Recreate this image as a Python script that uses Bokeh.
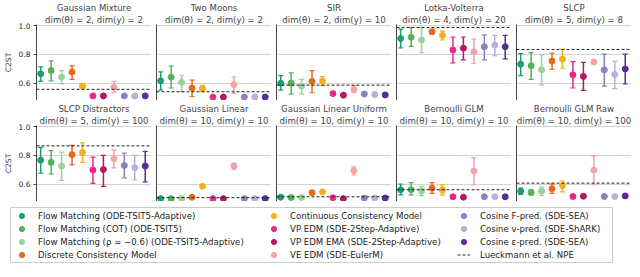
import numpy as np
from bokeh.plotting import figure
from bokeh.models import (Range1d, FixedTicker, Span, Title, Legend, LegendItem,
                          ColumnDataSource, NumeralTickFormatter)
from bokeh.layouts import column, row
from bokeh.embed import file_html
from bokeh.resources import INLINE

FONT = "DejaVu Sans"

methods = [
    "Flow Matching (ODE-TSIT5-Adaptive)",
    "Flow Matching (COT) (ODE-TSIT5)",
    "Flow Matching (ρ = −0.6) (ODE-TSIT5-Adaptive)",
    "Discrete Consistency Model",
    "Continuous Consistency Model",
    "VP EDM (SDE-2Step-Adaptive)",
    "VP EDM EMA (SDE-2Step-Adaptive)",
    "VE EDM (SDE-EulerM)",
    "Cosine F-pred. (SDE-SEA)",
    "Cosine v-pred. (SDE-ShARK)",
    "Cosine ε-pred. (SDE-SEA)",
]
npe_label = "Lueckmann et al. NPE"
colors = ["#1b9e77", "#52b35a", "#9ad39a", "#e66a1a", "#f0b21c", "#e7298a",
          "#b31a62", "#f7a1a8", "#8b80c2", "#b6b1dc", "#5b2b98"]

task_names = ["Gaussian Mixture", "Two Moons", "SIR", "Lotka-Volterra", "SLCP",
              "SLCP Distractors", "Gaussian Linear", "Gaussian Linear Uniform",
              "Bernoulli GLM", "Bernoulli GLM Raw"]
task_dims = ["dim(θ) = 2, dim(y) = 2", "dim(θ) = 2, dim(y) = 2",
             "dim(θ) = 2, dim(y) = 10", "dim(θ) = 4, dim(y) = 20",
             "dim(θ) = 5, dim(y) = 8", "dim(θ) = 5, dim(y) = 100",
             "dim(θ) = 10, dim(y) = 10", "dim(θ) = 10, dim(y) = 10",
             "dim(θ) = 10, dim(y) = 10", "dim(θ) = 10, dim(y) = 100"]

gm_mean = [0.665, 0.687, 0.641, 0.676, 0.578, 0.510, 0.510, 0.572, 0.510, 0.510, 0.510]
gm_lo = [0.611, 0.615, 0.593, 0.626, 0.564, 0.505, 0.505, 0.534, 0.506, 0.506, 0.506]
gm_hi = [0.713, 0.755, 0.687, 0.720, 0.593, 0.515, 0.515, 0.611, 0.514, 0.514, 0.514]
gm_npe = 0.556

tm_mean = [0.615, 0.641, 0.605, 0.565, 0.561, 0.502, 0.502, 0.589, 0.502, 0.502, 0.502]
tm_lo = [0.550, 0.565, 0.539, 0.506, 0.539, 0.498, 0.498, 0.528, 0.498, 0.498, 0.498]
tm_hi = [0.677, 0.718, 0.654, 0.620, 0.583, 0.506, 0.506, 0.641, 0.506, 0.506, 0.506]
tm_npe = 0.539

sir_mean = [0.598, 0.600, 0.578, 0.611, 0.613, 0.526, 0.515, 0.556, 0.523, 0.519, 0.517]
sir_lo = [0.550, 0.523, 0.523, 0.532, 0.582, 0.516, 0.505, 0.532, 0.518, 0.514, 0.512]
sir_hi = [0.652, 0.670, 0.626, 0.687, 0.644, 0.536, 0.525, 0.580, 0.528, 0.524, 0.522]
sir_npe = 0.585

lv_mean = [0.910, 0.919, 0.900, 0.958, 0.932, 0.830, 0.843, 0.818, 0.853, 0.864, 0.853]
lv_lo = [0.845, 0.856, 0.812, 0.940, 0.900, 0.740, 0.762, 0.736, 0.762, 0.790, 0.768]
lv_hi = [0.976, 0.987, 0.987, 0.975, 0.962, 0.921, 0.921, 0.906, 0.936, 0.932, 0.932]
lv_npe = 0.987

slcp_mean = [0.731, 0.720, 0.692, 0.753, 0.766, 0.657, 0.646, 0.746, 0.692, 0.659, 0.698]
slcp_lo = [0.652, 0.626, 0.587, 0.696, 0.703, 0.565, 0.548, 0.735, 0.578, 0.561, 0.593]
slcp_hi = [0.805, 0.812, 0.797, 0.808, 0.834, 0.749, 0.744, 0.760, 0.801, 0.753, 0.801]
slcp_npe = 0.834

slcpd_mean = [0.766, 0.751, 0.725, 0.805, 0.820, 0.697, 0.701, 0.777, 0.729, 0.714, 0.725]
slcpd_lo = [0.675, 0.671, 0.625, 0.734, 0.751, 0.604, 0.584, 0.712, 0.643, 0.628, 0.615]
slcpd_hi = [0.855, 0.833, 0.823, 0.870, 0.887, 0.788, 0.800, 0.838, 0.816, 0.800, 0.827]
slcpd_npe = 0.866

gl_mean = [0.498, 0.498, 0.498, 0.508, 0.584, 0.498, 0.498, 0.725, 0.498, 0.498, 0.498]
gl_lo = [0.495, 0.495, 0.495, 0.504, 0.579, 0.495, 0.495, 0.703, 0.495, 0.495, 0.495]
gl_hi = [0.501, 0.501, 0.501, 0.512, 0.589, 0.501, 0.501, 0.745, 0.501, 0.501, 0.501]
gl_npe = 0.505

glu_mean = [0.508, 0.506, 0.506, 0.539, 0.545, 0.504, 0.498, 0.693, 0.502, 0.502, 0.502]
glu_lo = [0.505, 0.503, 0.503, 0.535, 0.541, 0.501, 0.495, 0.664, 0.499, 0.499, 0.499]
glu_hi = [0.511, 0.509, 0.509, 0.543, 0.549, 0.507, 0.501, 0.719, 0.505, 0.505, 0.505]
glu_npe = 0.511

bglm_mean = [0.560, 0.560, 0.552, 0.571, 0.558, 0.511, 0.508, 0.690, 0.511, 0.511, 0.511]
bglm_lo = [0.524, 0.524, 0.519, 0.534, 0.524, 0.507, 0.503, 0.593, 0.507, 0.507, 0.507]
bglm_hi = [0.600, 0.610, 0.584, 0.610, 0.595, 0.515, 0.513, 0.784, 0.515, 0.515, 0.515]
bglm_npe = 0.560

bglmr_mean = [0.550, 0.541, 0.550, 0.567, 0.589, 0.513, 0.515, 0.697, 0.513, 0.513, 0.517]
bglmr_lo = [0.528, 0.524, 0.519, 0.534, 0.545, 0.509, 0.511, 0.593, 0.509, 0.509, 0.513]
bglmr_hi = [0.571, 0.560, 0.578, 0.600, 0.621, 0.517, 0.519, 0.794, 0.517, 0.517, 0.521]
bglmr_npe = 0.606

y_ticks = [0.6, 0.8, 1.0]

tasks = [
    (gm_mean, gm_lo, gm_hi, gm_npe),
    (tm_mean, tm_lo, tm_hi, tm_npe),
    (sir_mean, sir_lo, sir_hi, sir_npe),
    (lv_mean, lv_lo, lv_hi, lv_npe),
    (slcp_mean, slcp_lo, slcp_hi, slcp_npe),
    (slcpd_mean, slcpd_lo, slcpd_hi, slcpd_npe),
    (gl_mean, gl_lo, gl_hi, gl_npe),
    (glu_mean, glu_lo, glu_hi, glu_npe),
    (bglm_mean, bglm_lo, bglm_hi, bglm_npe),
    (bglmr_mean, bglmr_lo, bglmr_hi, bglmr_npe),
]

AX = "#444444"
GRID = "#d2d2d2"
xs = list(range(len(methods)))


def make_panel(k):
    mean, lo, hi, npe = tasks[k]
    first_col = (k % 5 == 0)
    top_row = k < 5
    p = figure(output_backend="svg", toolbar_location=None,
               frame_width=115, frame_height=76,
               min_border_left=5, min_border_right=0,
               min_border_top=21 if top_row else 25, min_border_bottom=0,
               x_range=Range1d(-0.4, 10.6), y_range=Range1d(0.478, 1.008),
               title=task_names[k])
    p.title.text_font = FONT
    p.title.text_font_size = "8.6px"
    p.title.text_font_style = "normal"
    p.title.align = "center"
    p.title.standoff = 0
    p.title.offset = 0
    t2 = Title(text=task_dims[k], text_font=FONT, text_font_size="8.6px",
               text_font_style="normal", align="center", standoff=0)
    p.add_layout(t2, "above")
    p.outline_line_color = None
    p.background_fill_color = "white"

    p.xaxis.ticker = FixedTicker(ticks=[])
    p.xaxis.major_tick_line_color = None
    p.xaxis.minor_tick_line_color = None
    p.xaxis.major_label_standoff = 0
    p.xaxis.axis_line_color = AX
    p.xaxis.axis_line_width = 1
    p.xgrid.visible = False

    p.yaxis.axis_line_color = AX
    p.yaxis.axis_line_width = 1
    p.yaxis.major_tick_line_color = AX
    p.yaxis.major_tick_out = 3
    p.yaxis.major_tick_in = 0
    p.yaxis.minor_tick_line_color = None
    p.ygrid.grid_line_color = GRID
    p.ygrid.grid_line_width = 1
    if first_col:
        p.yaxis.ticker = FixedTicker(ticks=y_ticks, minor_ticks=[])
        p.yaxis.formatter = NumeralTickFormatter(format="0.0")
        p.yaxis.axis_label = "C2ST"
        p.yaxis.axis_label_text_font = FONT
        p.yaxis.axis_label_text_font_size = "7.6px"
        p.yaxis.axis_label_text_font_style = "normal"
        p.yaxis.axis_label_standoff = 3
        p.yaxis.major_label_text_font = FONT
        p.yaxis.major_label_text_font_size = "7.5px"
        p.yaxis.major_label_text_color = "#222222"
        p.yaxis.major_label_standoff = 3
    else:
        p.yaxis.ticker = FixedTicker(ticks=[], minor_ticks=[])
        p.ygrid.ticker = FixedTicker(ticks=y_ticks, minor_ticks=[])

    src = ColumnDataSource(dict(x=xs, mean=mean, lo=lo, hi=hi, color=colors))
    p.segment(x0="x", y0="lo", x1="x", y1="hi", line_color="color",
              line_width=1.5, source=src)
    p.scatter(x="x", y="hi", marker="dash", size=5, line_color="color",
              line_width=1.2, source=src)
    p.scatter(x="x", y="lo", marker="dash", size=5, line_color="color",
              line_width=1.2, source=src)
    p.scatter(x="x", y="mean", marker="circle", size=6, fill_color="color",
              line_color="color", source=src)
    p.add_layout(Span(location=npe, dimension="width", line_color="#222222",
                      line_width=1, line_dash="3 2"))
    return p


panels = [make_panel(k) for k in range(10)]

# Legend figure
lf = figure(output_backend="svg", toolbar_location=None,
            frame_width=602, frame_height=55,
            min_border_left=10, min_border_right=12, min_border_top=6,
            min_border_bottom=1, x_axis_location=None, y_axis_location=None,
            x_range=Range1d(0, 1), y_range=Range1d(0, 1))
lf.outline_line_color = "#cccccc"
lf.outline_line_width = 1
lf.grid.visible = False

rends = []
for i in range(len(methods)):
    r = lf.scatter(x=xs, y=gm_mean, marker="circle", size=6,
                   fill_color=colors[i], line_color=colors[i])
    r.visible = False
    rends.append(r)
npe_r = lf.line(x=xs, y=[gm_npe] * len(xs), line_color="#222222",
                line_width=1, line_dash="3 2")
npe_r.visible = False

groups = [
    ([LegendItem(label=methods[i], renderers=[rends[i]]) for i in range(0, 4)], 5),
    ([LegendItem(label=methods[i], renderers=[rends[i]]) for i in range(4, 8)], 257),
    ([LegendItem(label=methods[i], renderers=[rends[i]]) for i in range(8, 11)]
     + [LegendItem(label=npe_label, renderers=[npe_r])], 447),
]
for items, x0 in groups:
    lg = Legend(items=items, location=(x0, 1), orientation="vertical",
                border_line_color=None, background_fill_alpha=0,
                padding=0, margin=0, spacing=0, label_height=13,
                glyph_height=13, glyph_width=13, label_standoff=10,
                label_text_font=FONT, label_text_font_size="8.6px",
                label_text_baseline="middle", label_text_color="#222222")
    lf.add_layout(lg, "center")

layout = column(row(*panels[:5]), row(*panels[5:]), lf)
html = file_html(layout, INLINE)
open("out.html", "w").write(html)
